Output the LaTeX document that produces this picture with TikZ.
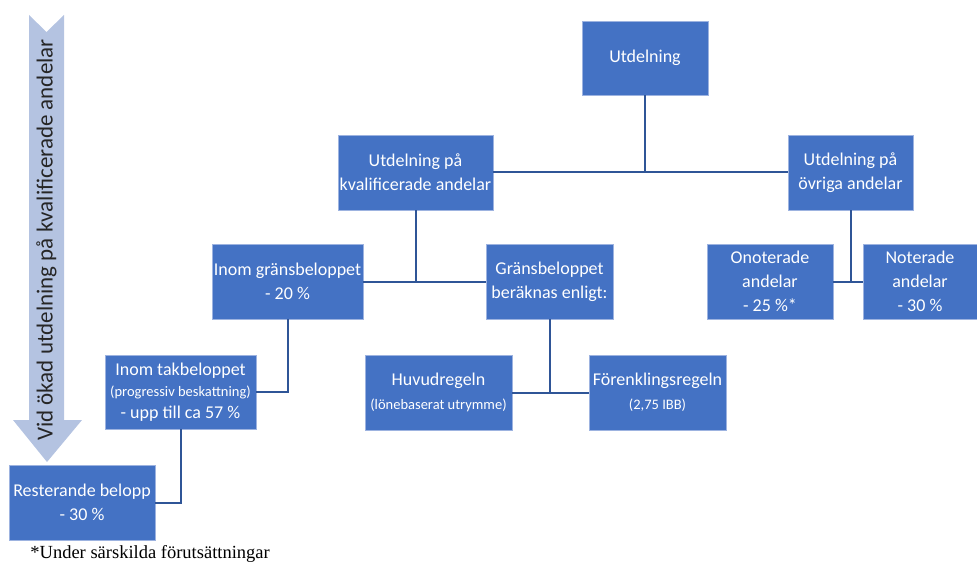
\documentclass[tikz,border=0pt]{standalone}
\usepackage{fontspec}
\setmainfont{Carlito}
\newfontfamily\serifnote{Liberation Serif}
\usetikzlibrary{positioning,calc}
\definecolor{boxblue}{HTML}{4472C4}
\definecolor{boxedge}{HTML}{9DB3E0}
\definecolor{linkblue}{HTML}{2F5597}
\definecolor{arrowfill}{HTML}{B4C3E1}
\newcommand{\smalltxt}[1]{{\fontsize{14.5}{21}\selectfont #1}}

\begin{document}
\begin{tikzpicture}[x=1pt,y=-1pt,thick]
\tikzstyle{bx} = [draw=boxedge,line width=0.8pt,fill=boxblue,text=white,shape=rectangle,inner sep=0pt,align=center,font=\fontsize{18}{24}\selectfont]
\tikzstyle{link} = [draw=linkblue,line width=2pt]
\useasboundingbox (0,0) rectangle (977,564);
% big arrow on the left
\fill[arrowfill] (29,15) -- (46.5,32) -- (64,15) -- (64,420) -- (82,420) -- (47,462) -- (13,420) -- (29,420) -- cycle;
\node[rotate=90,text=black!85,font=\fontsize{23}{26}\selectfont] (vid) at (46.5,240) {Vid ökad utdelning på kvalificerade andelar};
% boxes
\node[bx,minimum width=126,minimum height=74] (ut) at (645,58) {Utdelning};
\node[bx,minimum width=155,minimum height=75] (kval) at (415.5,172.5) {Utdelning på\\kvalificerade andelar};
\node[bx,minimum width=125,minimum height=75] (ovr) at (850.5,172.5) {Utdelning på\\övriga andelar};
\node[bx,minimum width=151,minimum height=75] (igb) at (287.5,281.5) {Inom gränsbeloppet\\- 20 \%};
\node[bx,minimum width=127,minimum height=75] (gb) at (549.5,281.5) {Gränsbeloppet\\beräknas enligt:};
\node[bx,minimum width=126,minimum height=75] (ono) at (770,281.5) {Onoterade\\andelar\\- 25 \%*};
\node[bx,minimum width=114,minimum height=75] (not) at (920,281.5) {Noterade\\andelar\\- 30 \%};
\node[bx,minimum width=147,minimum height=75] (hr) at (438.5,392.5) {Huvudregeln\\\smalltxt{(lönebaserat utrymme)}};
\node[bx,minimum width=137,minimum height=75] (fr) at (657.5,392.5) {Förenklingsregeln\\\smalltxt{(2,75 IBB)}};
\node[bx,minimum width=151,minimum height=74,font=\fontsize{18}{21.5}\selectfont] (itb) at (180.5,392) {Inom takbeloppet\\\smalltxt{(progressiv beskattning)}\\- upp till ca 57 \%};
\node[bx,minimum width=146,minimum height=75] (rb) at (82,502.5) {Resterande belopp\\- 30 \%};
% connectors
\draw[link] (ut) -- (ut |- kval);
\draw[link] (kval) -- (ovr);
\draw[link] (kval) -- (kval |- igb);
\draw[link] (igb) -- (gb);
\draw[link] (gb) -- (gb |- hr);
\draw[link] (hr) -- (fr);
\draw[link] (ovr) -- (ovr |- ono);
\draw[link] (ono) -- (not);
\draw[link] (igb.south) -- (igb.south |- itb.east) -- (itb.east);
\draw[link] (itb.south) -- (itb.south |- rb.east) -- (rb.east);
% footnote
\node[anchor=base west,inner sep=0pt,font=\serifnote\fontsize{18.5}{20}\selectfont] (note) at (30,558) {*Under särskilda förutsättningar};
\end{tikzpicture}
\end{document}
